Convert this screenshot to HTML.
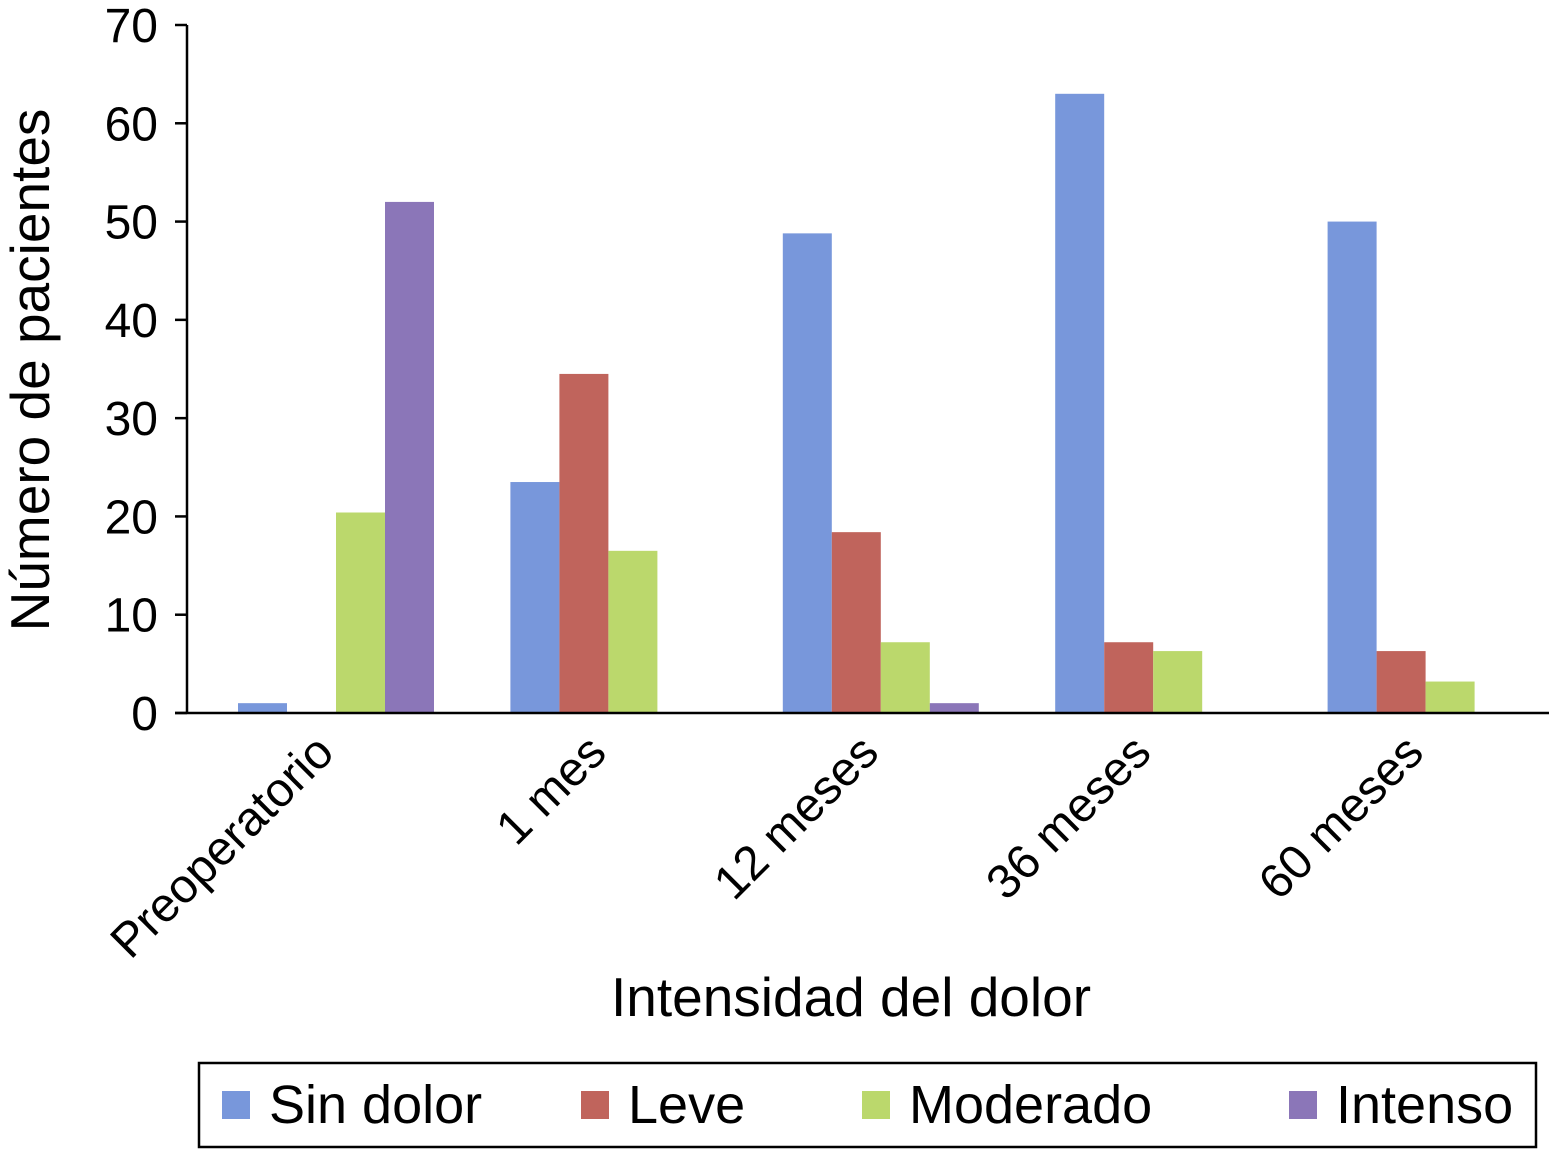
<!DOCTYPE html>
<html><head><meta charset="utf-8"><style>
html,body{margin:0;padding:0;background:#fff;}
svg{display:block;font-family:"Liberation Sans",Arial,sans-serif;}
</style></head><body>
<svg id="chart" width="1549" height="1150" viewBox="0 0 1549 1150">
<g id="bars"></g>
<g id="axes"></g>
<text x="0" y="0" transform="translate(49,370) rotate(-90)" text-anchor="middle" font-size="55">Número de pacientes</text>
<text x="851" y="1016" text-anchor="middle" font-size="55">Intensidad del dolor</text>
<g>
<rect x="199" y="1063" width="1337" height="84" fill="#fff" stroke="#000" stroke-width="2.5"/>
<g id="legend-items"></g>
</g>
</svg>
<script>
const categories = ["Preoperatorio","1 mes","12 meses","36 meses","60 meses"];
const seriesNames = ["Sin dolor","Leve","Moderado","Intenso"];
const sinDolor = [1, 23.5, 48.8, 63, 50];
const leve = [0, 34.5, 18.4, 7.2, 6.3];
const moderado = [20.4, 16.5, 7.2, 6.3, 3.2];
const intenso = [52, 0, 1, 0, 0];
const yTicks = [0,10,20,30,40,50,60,70];

const series = [sinDolor, leve, moderado, intenso];
const colors = ["#7897DB","#C0645C","#BBD86C","#8B76B8"];
const NS = "http://www.w3.org/2000/svg";
const x0 = 187, x1 = 1549, yTop = 25, yBot = 713, yMax = 70;
const catW = (x1 - x0) / categories.length;
const barW = 49;
function yScale(v){ return yBot - v / yMax * (yBot - yTop); }
function xBar(ci, si){ return x0 + ci * catW + 51 + si * barW; }
function mk(tag, attrs, parent){ const e = document.createElementNS(NS, tag); for (const k in attrs) e.setAttribute(k, attrs[k]); parent.appendChild(e); return e; }

const bars = document.getElementById("bars");
series.forEach((s, si) => {
  s.forEach((v, ci) => {
    if (v <= 0) return;
    const r = mk("rect", {x: xBar(ci, si), y: yScale(v), width: barW, height: yBot - yScale(v), fill: colors[si]}, bars);
    
    
  });
});

const axes = document.getElementById("axes");
const ya = mk("line", {x1: x0, y1: yTop, x2: x0, y2: yBot, stroke: "#000", "stroke-width": 2.5}, axes);


const xa = mk("line", {x1: x0 - 12, y1: yBot, x2: x1, y2: yBot, stroke: "#000", "stroke-width": 2.5}, axes);


yTicks.forEach(t => {
  const y = yScale(t);
  const tk = mk("line", {x1: x0 - 12, y1: y, x2: x0, y2: y, stroke: "#000", "stroke-width": 2.5}, axes);
  
  
  const tx = mk("text", {x: 158, y: y + 17, "text-anchor": "end", "font-size": 48}, axes);
  tx.textContent = t;
  
  
});
categories.forEach((c, ci) => {
  const cx = x0 + ci * catW + catW / 2 + 13;
  const tx = mk("text", {x: 0, y: 0, "text-anchor": "end", "font-size": 48, transform: "translate(" + cx + ",755) rotate(-45)"}, axes);
  tx.textContent = c;
  
  
});

const li = document.getElementById("legend-items");
const legX = [222, 581, 862, 1289];
seriesNames.forEach((n, i) => {
  const sq = mk("rect", {x: legX[i], y: 1091, width: 28, height: 28, fill: colors[i]}, li);
  
  
  const t = mk("text", {x: legX[i] + 47, y: 1123, "font-size": 54}, li);
  t.textContent = n;
  
  
});
</script>
</body></html>
